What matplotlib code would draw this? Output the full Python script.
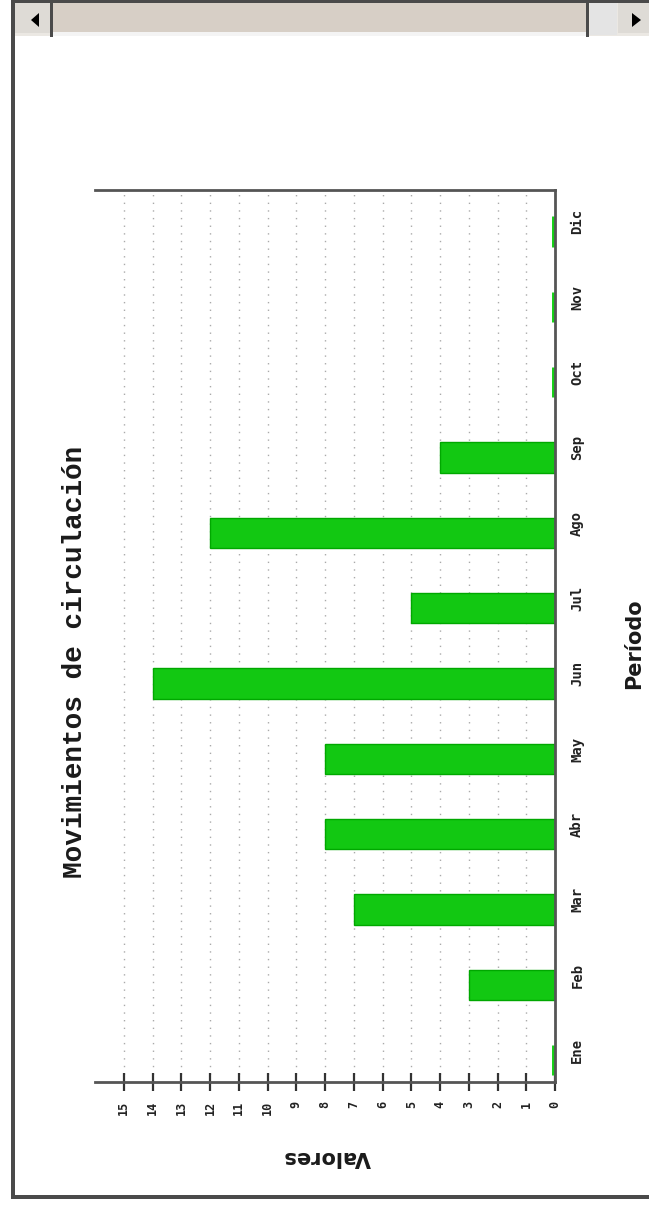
import matplotlib
matplotlib.use('Agg')
import matplotlib.pyplot as plt
import numpy as np
from matplotlib.patches import Rectangle, Polygon

# ---- data ----
months = ['Ene', 'Feb', 'Mar', 'Abr', 'May', 'Jun', 'Jul', 'Ago', 'Sep', 'Oct', 'Nov', 'Dic']
values = [0, 3, 7, 8, 8, 14, 5, 12, 4, 0, 0, 0]
value_ticks = list(range(0, 16))
title = 'Movimientos de circulación'
cat_label = 'Período'
val_label = 'Valores'

W, H = 649, 1209
fig = plt.figure(figsize=(W / 100, H / 100), dpi=100)
fig.patch.set_facecolor('white')

# ---- window frame (pixel coordinates) ----
fr = fig.add_axes([0, 0, 1, 1])
fr.set_xlim(0, W)
fr.set_ylim(H, 0)
fr.axis('off')

dark = '#4a4a4a'
fr.add_patch(Rectangle((14, 0), W - 14, 36, facecolor='#ebe8e3', edgecolor='none'))
fr.add_patch(Rectangle((15, 3), 36, 30, facecolor='#dedbd6', edgecolor='none'))
fr.add_patch(Polygon([(31, 20), (39, 13), (39, 27)], closed=True, facecolor='black', edgecolor='none'))
fr.add_patch(Rectangle((53, 3), 534, 30, facecolor='#d7cfc6', edgecolor='none'))
fr.add_patch(Rectangle((53, 32), 534, 4, facecolor='#f4f4f4', edgecolor='none'))
fr.add_patch(Rectangle((590, 3), 27, 32, facecolor='#e4e4e4', edgecolor='none'))
fr.add_patch(Rectangle((618, 3), 31, 30, facecolor='#dedbd6', edgecolor='none'))
fr.add_patch(Polygon([(641, 20), (632, 13), (632, 27)], closed=True, facecolor='black', edgecolor='none'))
fr.add_patch(Rectangle((50, 0), 3, 37, facecolor=dark, edgecolor='none'))
fr.add_patch(Rectangle((586, 0), 3, 37, facecolor=dark, edgecolor='none'))
fr.add_patch(Rectangle((12, 0), W - 12, 3, facecolor=dark, edgecolor='none'))
fr.add_patch(Rectangle((11, 0), 4, 1199, facecolor=dark, edgecolor='none'))
fr.add_patch(Rectangle((11, 1195), W - 11, 4, facecolor=dark, edgecolor='none'))

# ---- chart (drawn rotated: values run right-to-left, months bottom-to-top) ----
left, right, top, bottom = 95, 555, 190, 1082
ax = fig.add_axes([left / W, 1 - bottom / H, (right - left) / W, (bottom - top) / H])
ax.set_facecolor('none')

pos = np.arange(len(months))
lw = [5.0 if v == 0 else 1.0 for v in values]
ec = ['#14d014' if v == 0 else '#00a800' for v in values]
ax.barh(pos - 0.13, values, height=0.40, color='#12c812', edgecolor=ec,
        linewidth=lw, zorder=2)

ax.set_xlim(16, 0)
ax.set_ylim(-0.42, len(months) - 1 + 0.42)

ax.set_xticks(value_ticks)
ax.set_xticklabels([str(v) for v in value_ticks], rotation=90,
                   family='DejaVu Sans Mono', weight='bold', fontsize=8.5, color='#222222')
ax.set_yticks(pos)
ax.yaxis.tick_right()
ax.set_yticklabels(months, rotation=90, va='center',
                   family='DejaVu Sans Mono', weight='bold', fontsize=10, color='#222222')

ax.tick_params(axis='y', length=0, pad=11)
ax.tick_params(axis='x', direction='inout', length=13, width=1.6, color='#333333', pad=7)

ax.xaxis.grid(True, linestyle=(0, (1, 4.5)), color='#aaaaaa', linewidth=1.0)
ax.yaxis.grid(False)
ax.set_axisbelow(True)

ax.spines['left'].set_visible(False)
for s in ['top', 'right', 'bottom']:
    ax.spines[s].set_color('#555555')
    ax.spines[s].set_linewidth(2.0)

# ---- titles ----
fr.text(75, 662, title, rotation=90, ha='center', va='center',
        family='Liberation Mono', weight='bold', fontsize=20, color='#1a1a1a')
fr.text(634, 644, cat_label, rotation=90, ha='center', va='center',
        family='DejaVu Sans', weight='bold', fontsize=15, color='#1a1a1a')
fr.text(327, 1157, val_label, rotation=180, ha='center', va='center',
        family='DejaVu Sans', weight='bold', fontsize=15, color='#1a1a1a')

fig.savefig('out.png', dpi=100, facecolor='white')
